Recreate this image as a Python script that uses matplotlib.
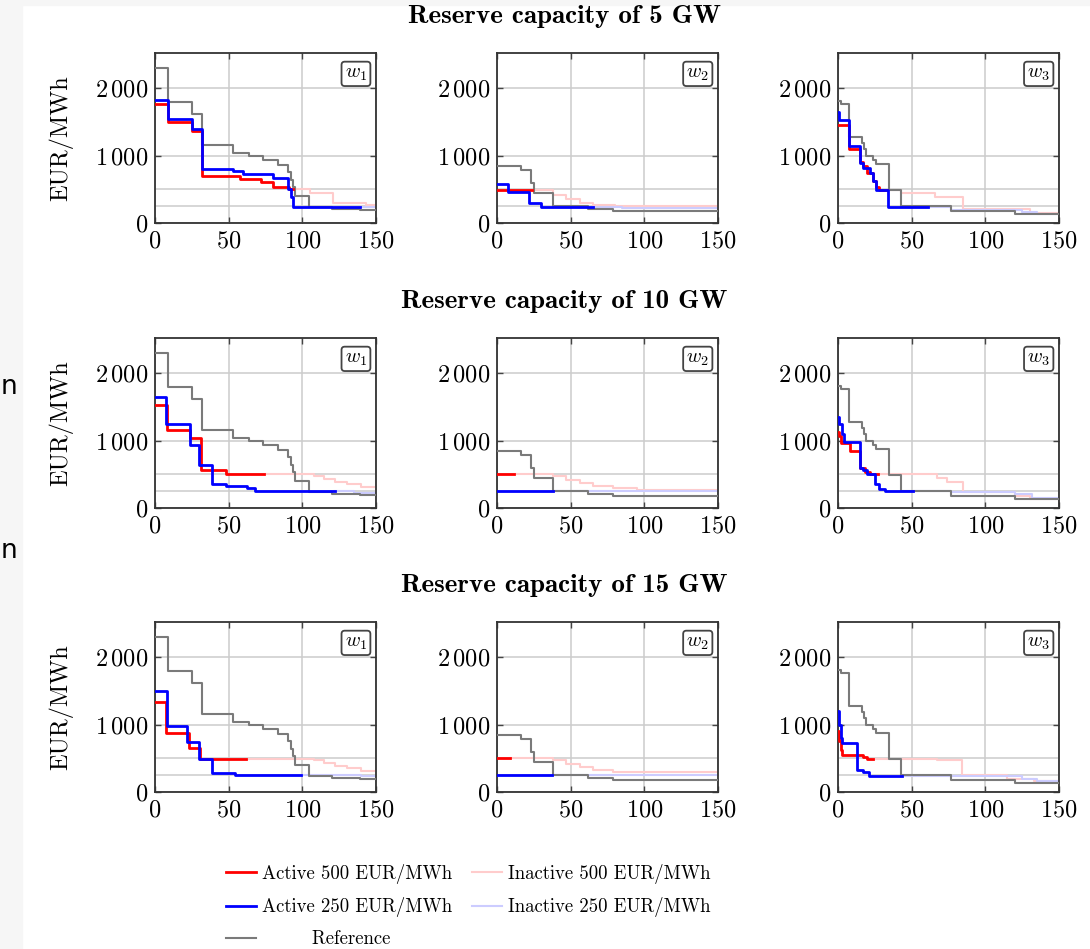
import matplotlib
matplotlib.use("Agg")
import matplotlib.pyplot as plt
from matplotlib.lines import Line2D
from matplotlib.patches import Rectangle

plt.rcParams["font.family"] = ["cmr10", "DejaVu Serif"]
plt.rcParams["mathtext.fontset"] = "cm"
plt.rcParams["axes.formatter.use_mathtext"] = True

# ---- data (x = hour rank, y = price in EUR/MWh), step levels starting at each x ----
X_MAX = 150
reserves = ["5", "10", "15"]
windows = ["w_1", "w_2", "w_3"]
price_caps = [500, 250]
x_ticks = [0, 50, 100, 150]
y_ticks = [0, 1000, 2000]
y_tick_labels = ["0", r"$1\,000$", r"$2\,000$"]

# reference (same for every reserve level)
ref_w1_x = [0, 9, 25, 32, 53, 64, 73.5, 83.5, 90, 92.5, 94, 95, 104.5, 120, 139]
ref_w1_y = [2300, 1800, 1620, 1150, 1040, 990, 940, 865, 760, 640, 540, 400, 235, 210, 190]
ref_w2_x = [0, 16, 23, 25, 38, 62, 79]
ref_w2_y = [850, 780, 600, 450, 250, 210, 175]
ref_w3_x = [0, 2.3, 7.5, 16, 17.5, 19, 24, 25.5, 34.5, 43, 77, 120]
ref_w3_y = [1810, 1760, 1270, 1190, 1100, 990, 940, 870, 490, 245, 185, 130]

# 5 GW
r5_w1_red_x = [0, 9, 25, 32, 58, 72, 80, 91, 105, 121, 143]
r5_w1_red_y = [1760, 1500, 1360, 700, 650, 610, 540, 500, 440, 300, 260]
r5_w1_red_end = 94
r5_w1_blue_x = [0, 9, 25, 32, 53, 60, 80, 90, 92, 93.5]
r5_w1_blue_y = [1830, 1545, 1390, 800, 775, 728, 673, 500, 390, 240]
r5_w1_blue_end = 139
r5_w2_red_x = [0, 38, 47, 56, 65, 80]
r5_w2_red_y = [490, 410, 350, 300, 270, 245]
r5_w2_red_end = 24
r5_w2_blue_x = [0, 7.5, 22, 30, 85]
r5_w2_blue_y = [580, 460, 300, 240, 225]
r5_w2_blue_end = 65
r5_w3_red_x = [0, 7.5, 15.2, 17, 19.5, 24, 26, 27.5, 43, 66, 85, 130]
r5_w3_red_y = [1460, 1090, 900, 840, 740, 620, 540, 490, 440, 385, 210, 155]
r5_w3_red_end = 33
r5_w3_blue_x = [0, 1, 7.5, 15.2, 17, 21.6, 24, 26, 34, 77, 125, 135]
r5_w3_blue_y = [1650, 1530, 1135, 890, 810, 740, 620, 490, 243, 200, 170, 135]
r5_w3_blue_end = 61

# 10 GW
r10_w1_red_x = [0, 8, 24, 31, 48, 108, 115, 122, 130, 140]
r10_w1_red_y = [1520, 1150, 1040, 560, 505, 470, 430, 390, 350, 310]
r10_w1_red_end = 74
r10_w1_blue_x = [0, 7.5, 24, 30, 38.5, 48, 62.5, 68, 135]
r10_w1_blue_y = [1650, 1240, 930, 640, 360, 330, 290, 250, 225]
r10_w1_blue_end = 122
r10_w2_red_x = [0, 38, 47, 56, 65, 79, 95]
r10_w2_red_y = [505, 480, 420, 370, 330, 295, 270]
r10_w2_red_end = 11.6
r10_w2_blue_x = [0]
r10_w2_blue_y = [250]
r10_w2_blue_end = 38
r10_w3_red_x = [0, 1, 2, 8, 15, 18, 22, 67, 74, 85, 120, 130]
r10_w3_red_y = [1130, 1060, 970, 850, 590, 540, 505, 450, 390, 235, 175, 135]
r10_w3_red_end = 27
r10_w3_blue_x = [0, 1, 3, 4, 15, 17, 20, 25, 28, 32, 77, 120, 132]
r10_w3_blue_y = [1350, 1250, 1100, 980, 600, 560, 500, 350, 280, 250, 235, 205, 150]
r10_w3_blue_end = 51

# 15 GW
r15_w1_red_x = [0, 7.3, 23, 30.3, 108, 115, 122, 130, 140]
r15_w1_red_y = [1330, 880, 655, 495, 470, 430, 390, 350, 310]
r15_w1_red_end = 61.5
r15_w1_blue_x = [0, 8, 22, 30, 39, 54, 140]
r15_w1_blue_y = [1500, 980, 740, 485, 285, 250, 230]
r15_w1_blue_end = 99
r15_w2_red_x = [0, 38, 47, 56, 65, 79, 95]
r15_w2_red_y = [500, 480, 420, 370, 330, 300, 290]
r15_w2_red_end = 8.7
r15_w2_blue_x = [0]
r15_w2_blue_y = [246]
r15_w2_blue_end = 37
r15_w3_red_x = [0, 1, 2, 3, 17, 20, 67, 84, 115, 133]
r15_w3_red_y = [900, 750, 620, 550, 520, 490, 470, 255, 200, 165]
r15_w3_red_end = 24
r15_w3_blue_x = [0, 1, 2, 3, 13, 17, 21, 77, 125, 135]
r15_w3_blue_y = [1200, 1000, 800, 720, 330, 290, 240, 240, 200, 160]
r15_w3_blue_end = 43.6

refs = [(ref_w1_x, ref_w1_y), (ref_w2_x, ref_w2_y), (ref_w3_x, ref_w3_y)]
reds = [
    [(r5_w1_red_x, r5_w1_red_y, r5_w1_red_end), (r5_w2_red_x, r5_w2_red_y, r5_w2_red_end), (r5_w3_red_x, r5_w3_red_y, r5_w3_red_end)],
    [(r10_w1_red_x, r10_w1_red_y, r10_w1_red_end), (r10_w2_red_x, r10_w2_red_y, r10_w2_red_end), (r10_w3_red_x, r10_w3_red_y, r10_w3_red_end)],
    [(r15_w1_red_x, r15_w1_red_y, r15_w1_red_end), (r15_w2_red_x, r15_w2_red_y, r15_w2_red_end), (r15_w3_red_x, r15_w3_red_y, r15_w3_red_end)],
]
blues = [
    [(r5_w1_blue_x, r5_w1_blue_y, r5_w1_blue_end), (r5_w2_blue_x, r5_w2_blue_y, r5_w2_blue_end), (r5_w3_blue_x, r5_w3_blue_y, r5_w3_blue_end)],
    [(r10_w1_blue_x, r10_w1_blue_y, r10_w1_blue_end), (r10_w2_blue_x, r10_w2_blue_y, r10_w2_blue_end), (r10_w3_blue_x, r10_w3_blue_y, r10_w3_blue_end)],
    [(r15_w1_blue_x, r15_w1_blue_y, r15_w1_blue_end), (r15_w2_blue_x, r15_w2_blue_y, r15_w2_blue_end), (r15_w3_blue_x, r15_w3_blue_y, r15_w3_blue_end)],
]

RED, BLUE, GRAY = "#ff0000", "#0000ff", "#7a7a7a"
PINK, LAVENDER = "#ffcccc", "#ccccff"


def steps(xs, ys, lo=0, hi=X_MAX):
    """Step curve (level ys[i] from xs[i] to xs[i+1]) clipped to [lo, hi]."""
    X, Y = [], []
    ends = list(xs[1:]) + [X_MAX]
    for a, b, y in zip(xs, ends, ys):
        a, b = max(a, lo), min(b, hi)
        if a < b:
            X += [a, b]
            Y += [y, y]
    return X, Y


W, H = 1090, 949
fig = plt.figure(figsize=(W / 100, H / 100), dpi=100)
fig.patches.append(Rectangle((0, 0), 22 / W, 1, transform=fig.transFigure, color="#f6f6f6", zorder=-10))
fig.patches.append(Rectangle((0, 1 - 5 / H), 1, 5 / H, transform=fig.transFigure, color="#f6f6f6", zorder=-10))
for yy in [387, 551]:
    fig.text(17 / W, 1 - yy / H, "n", fontsize=19, family="DejaVu Sans", ha="right", va="center")

col_left = [155, 497, 838]
row_top = [53, 338, 622]
ax_w, ax_h = 221, 170
title_base = [23, 308, 592]

for r in range(3):
    fig.text(564 / W, 1 - title_base[r] / H, f"Reserve capacity of {reserves[r]} GW",
             family="cmb10", fontsize=19.5, ha="center", va="baseline")
    for c in range(3):
        ax = fig.add_axes([col_left[c] / W, 1 - (row_top[r] + ax_h) / H, ax_w / W, ax_h / H])
        ax.set_xlim(0, X_MAX)
        ax.set_ylim(0, 2520)
        ax.set_xticks(x_ticks)
        ax.set_yticks(y_ticks)
        ax.set_yticklabels(y_tick_labels)
        ax.grid(True, color="#cccccc", lw=1.1)
        for p in price_caps:
            ax.axhline(p, color="#cccccc", lw=1.1, zorder=1)
        ax.tick_params(direction="in", top=True, right=True, length=4, width=1,
                       color="#444444", labelsize=17.5, pad=5)
        for s in ax.spines.values():
            s.set_color("#333333")
            s.set_linewidth(1.3)

        rx, ry, rend = reds[r][c]
        bx, by, bend = blues[r][c]
        ax.plot(*steps(rx, ry, rend, X_MAX), color=PINK, lw=1.5, zorder=2)
        ax.plot(*steps(bx, by, bend, X_MAX), color=LAVENDER, lw=1.5, zorder=2)
        ax.plot(*steps(*refs[c]), color=GRAY, lw=1.5, zorder=3)
        ax.plot(*steps(rx, ry, 0, rend), color=RED, lw=2, zorder=4)
        ax.plot(*steps(bx, by, 0, bend), color=BLUE, lw=2, zorder=5)

        ax.text(0.96, 0.93, f"${windows[c]}$", transform=ax.transAxes, ha="right", va="top",
                fontsize=14.5, zorder=6,
                bbox=dict(boxstyle="round,pad=0.16", fc="white", ec="#444444", lw=1.3))
        if c == 0:
            ax.set_ylabel("EUR/MWh", fontsize=17.5)
            ax.yaxis.set_label_coords(-0.37, 0.5)

handles = [
    Line2D([], [], color=RED, lw=2, label="Active 500 EUR/MWh"),
    Line2D([], [], color=BLUE, lw=2, label="Active 250 EUR/MWh"),
    Line2D([], [], color=GRAY, lw=1.5, label="        Reference"),
    Line2D([], [], color=PINK, lw=1.5, label="Inactive 500 EUR/MWh"),
    Line2D([], [], color=LAVENDER, lw=1.5, label="Inactive 250 EUR/MWh"),
]
fig.legend(handles=handles, loc="upper left", bbox_to_anchor=(226 / W, 1 - 864 / H),
           ncol=2, frameon=False, fontsize=13.5, borderpad=0, borderaxespad=0,
           handlelength=1.6, handletextpad=0.3, columnspacing=1.1, labelspacing=0.7)

fig.savefig("out.png", dpi=100)
